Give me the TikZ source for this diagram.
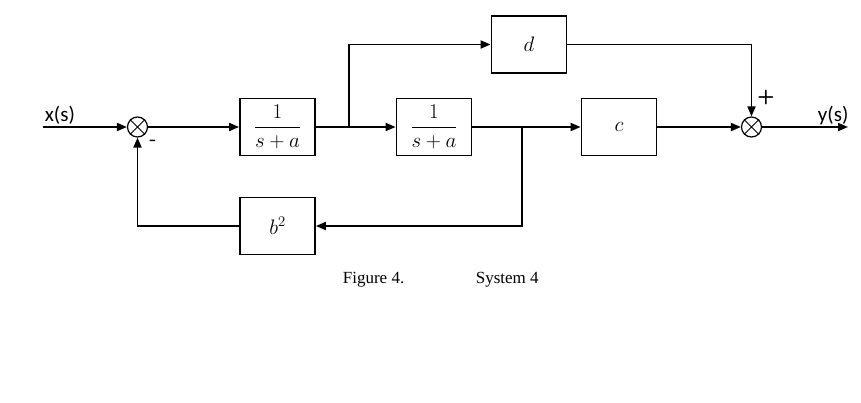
\RequirePackage{fix-cm}
\documentclass[tikz,border=0pt]{standalone}
\usepackage{amsmath}
\usepackage{fontspec}
\newfontfamily\labfont{Carlito}
\newfontfamily\capfont{Liberation Serif}
\usetikzlibrary{arrows.meta}
\begin{document}
\begin{tikzpicture}[x=1pt,y=-1pt,
  line width=1.8pt,
  blk/.style={draw,line width=1.8pt,minimum width=75pt,minimum height=57pt,inner sep=0pt,font=\fontsize{21}{24}\selectfont},
  sumj/.style={draw,circle,line width=1.2pt,minimum size=20pt,inner sep=0pt},
  arr/.style={-{Triangle[length=10pt,width=8pt]}},
  lab/.style={font=\labfont\fontsize{21}{24}\selectfont,inner sep=0pt}]
\useasboundingbox (0,0) rectangle (861,402);
\node[sumj] (s1) at (137.5,127) {};
\draw[line width=1pt] (s1.north west) -- (s1.south east) (s1.north east) -- (s1.south west);
\node[sumj] (s2) at (751.5,127) {};
\draw[line width=1pt] (s2.north west) -- (s2.south east) (s2.north east) -- (s2.south west);
\node[blk] (g1) at (277.5,127) {$\dfrac{1}{s+a}$};
\node[blk] (g2) at (434,127) {$\dfrac{1}{s+a}$};
\node[blk] (gc) at (619,127) {$c$};
\node[blk] (gd) at (529,44.5) {$d$};
\node[blk] (gb) at (277.5,226) {$b^2$};
\coordinate (in) at (43,127);
\coordinate (out) at (848,127);
\coordinate (p1) at (349,127);
\coordinate (p2) at (522,127);
\node[lab,anchor=base west] (xs) at (44,121) {x(s)};
\node[lab,anchor=base west] (ys) at (817,121) {y(s)};
\node[font=\sffamily\bfseries\fontsize{20}{20}\selectfont,inner sep=0pt] (plus) at (766,97) {+};
\node[font=\sffamily\bfseries\fontsize{20}{20}\selectfont,inner sep=0pt] (minus) at (153,143) {-};
\draw[arr] (in) -- (s1.west);
\draw[arr] (s1.east) -- (g1.west);
\draw (g1.east) -- (p1);
\draw[arr] (p1) -- (g2.west);
\draw[arr] (p1) |- (gd.west);
\draw (g2.east) -- (p2);
\draw[arr] (p2) -- (gc.west);
\draw[arr] (p2) |- (gb.east);
\draw[arr] (gb.west) -| (s1.south);
\draw[arr] (gd.east) -| (s2.north);
\draw[arr] (gc.east) -- (s2.west);
\draw[arr] (s2.east) -- (out);
\node[font=\capfont\fontsize{17}{20}\selectfont,anchor=base west,inner sep=0pt] (cap1) at (342,283) {Figure 4.};
\node[font=\capfont\fontsize{17}{20}\selectfont,anchor=base west,inner sep=0pt] (cap2) at (475,283) {System 4};
\end{tikzpicture}
\end{document}
